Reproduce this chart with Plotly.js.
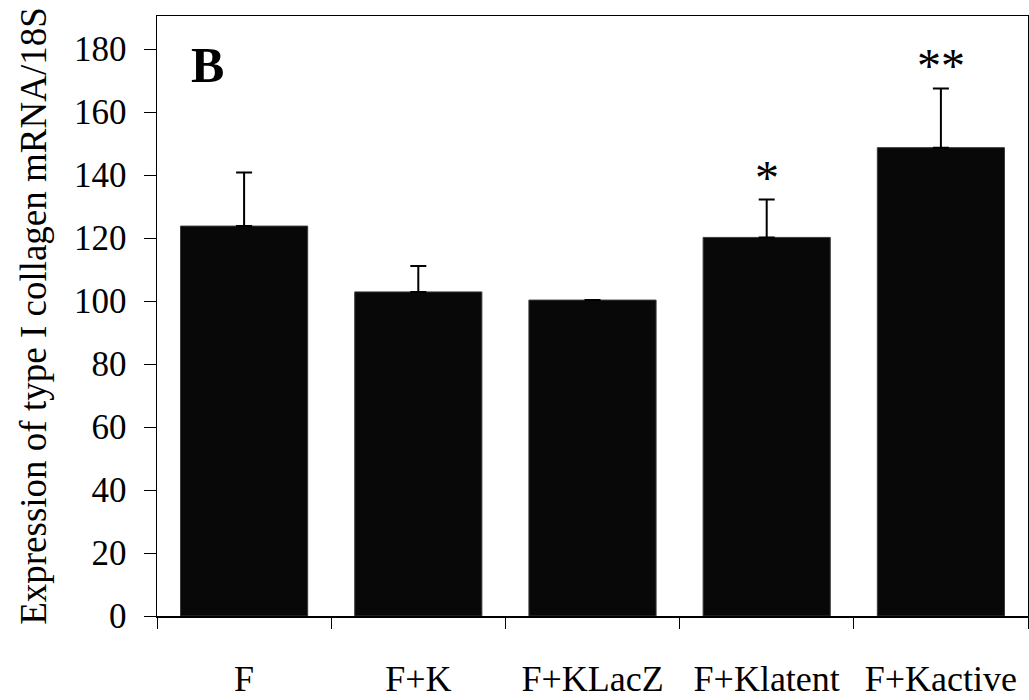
<!DOCTYPE html>
<html>
<head>
<meta charset="utf-8">
<script src="https://cdn.plot.ly/plotly-3.0.1.min.js"></script>
<style>
html,body{margin:0;padding:0;background:#fff;}
#chart{width:1029px;height:700px;}
</style>
</head>
<body>
<div id="chart"></div>
<script>
const categories = ["F", "F+K", "F+KLacZ", "F+Klatent", "F+Kactive"];
const expression = [123.8, 102.9, 100.3, 120.2, 148.7];
const errorUp = [17, 8.2, 0, 12, 18.8];
const significance = ["", "", "", "*", "**"];
const yTicks = [0, 20, 40, 60, 80, 100, 120, 140, 160, 180];

const FONT = "Liberation Serif, Times New Roman, serif";

const trace = {
  type: "bar",
  x: categories,
  y: expression,
  width: 0.73,
  marker: {color: "#080808", line: {color: "#3a3a3a", width: 1}},
  error_y: {
    type: "data",
    symmetric: false,
    array: errorUp,
    arrayminus: errorUp.map(() => 0),
    color: "#000",
    thickness: 2,
    width: 8,
    visible: true
  },
  hoverinfo: "x+y"
};

const annotations = [];
categories.forEach((c, i) => {
  if (significance[i]) {
    annotations.push({
      x: c, y: expression[i] + errorUp[i],
      xref: "x", yref: "y",
      text: significance[i],
      showarrow: false,
      yanchor: "bottom",
      yshift: -6,
      font: {family: FONT, size: 48, color: "#000"}
    });
  }
});
annotations.push({
  x: 0.037, y: 0.968, xref: "paper", yref: "paper",
  xanchor: "left", yanchor: "top",
  text: "<b>B</b>", showarrow: false,
  font: {family: FONT, size: 50, color: "#000"}
});

const layout = {
  width: 1029, height: 700,
  margin: {l: 157, r: 1, t: 16, b: 84},
  paper_bgcolor: "#fff", plot_bgcolor: "#fff",
  showlegend: false,
  font: {family: FONT, color: "#000"},
  xaxis: {
    type: "category",
    tickson: "boundaries",
    ticks: "outside", ticklen: 11, tickwidth: 1, tickcolor: "#000",
    showline: true, linecolor: "#000", linewidth: 1.5, mirror: true,
    showgrid: false, zeroline: false,
    tickfont: {family: FONT, size: 36, color: "#000"},
    ticklabelstandoff: 30
  },
  yaxis: {
    range: [0, 190.5],
    tickvals: yTicks,
    ticktext: yTicks.map(String),
    ticks: "outside", ticklen: 12, tickwidth: 1, tickcolor: "#000",
    showline: true, linecolor: "#000", linewidth: 1.5, mirror: true,
    showgrid: false, zeroline: false,
    tickfont: {family: FONT, size: 35, color: "#000"},
    ticklabelstandoff: 10,
    title: {text: "Expression of type I collagen mRNA/18S", font: {family: FONT, size: 37, color: "#000"}, standoff: 16}
  },
  annotations: annotations
};

Plotly.newPlot("chart", [trace], layout, {displayModeBar: false, staticPlot: true});
</script>
</body>
</html>
